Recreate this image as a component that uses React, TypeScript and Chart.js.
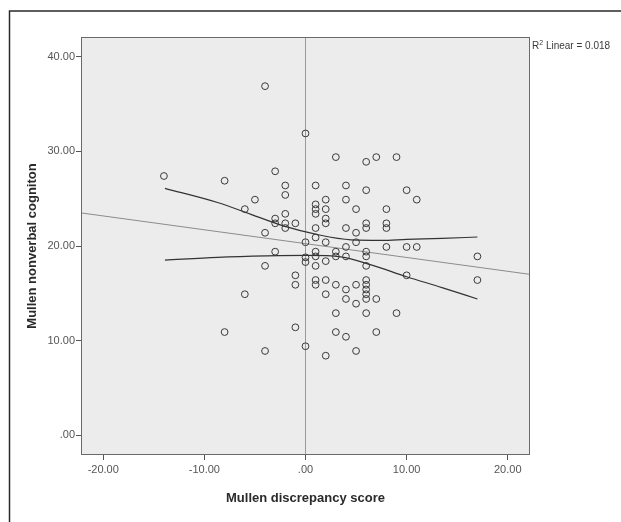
import React, { useEffect, useRef } from 'react';
import { Chart, registerables } from 'chart.js';

Chart.register(...registerables);

// Scatter data: Mullen discrepancy score (x) vs Mullen nonverbal cognition (y)
const discrepancyScores = [
  -4, 0, 3, 6, 7, 9, -14, -8, -3, -2, -2, 1, 4, 6, 10, 4, 11, -5, 2, -6,
  1, 1, 1, 2, 5, 8, -3, -3, -2, -2, -2, -1, -4, 2, 2, 1, 4, 5, 6, 6,
  8, 8, 1, 2, 0, 5, 4, 8, 10, 11, -3, 0, 0, 1, 1, 1, 2, 3, 3, 4,
  6, 6, 6, 17, 17, 10, -4, -1, -1, 1, 1, 2, 3, 4, 5, 6, 6, 6, 6, 6,
  7, 2, 4, 5, -6, 3, 6, 9, -1, -8, 3, 4, 7, -4, 0, 2, 5,
];
const nonverbalScores = [
  36.9, 31.9, 29.4, 28.9, 29.4, 29.4, 27.4, 26.9, 27.9, 26.4, 25.4, 26.4, 26.4, 25.9, 25.9, 24.9, 24.9, 24.9, 24.9, 23.9,
  24.4, 23.9, 23.4, 23.9, 23.9, 23.9, 22.9, 22.4, 23.4, 22.4, 21.9, 22.4, 21.4, 22.9, 22.4, 21.9, 21.9, 21.4, 22.4, 21.9,
  22.4, 21.9, 20.9, 20.4, 20.4, 20.4, 19.9, 19.9, 19.9, 19.9, 19.4, 18.8, 18.3, 19.4, 18.9, 17.9, 18.4, 19.4, 18.9, 18.9,
  19.4, 18.9, 17.9, 18.9, 16.4, 16.9, 17.9, 16.9, 15.9, 16.4, 15.9, 16.4, 15.9, 15.4, 15.9, 16.4, 15.9, 15.4, 14.9, 14.4,
  14.4, 14.9, 14.4, 13.9, 14.9, 12.9, 12.9, 12.9, 11.4, 10.9, 10.9, 10.4, 10.9, 8.9, 9.4, 8.4, 8.9,
];

// Linear fit line (edge to edge)
const fitX = [-22.2, 22.2];
const fitY = [23.5, 17.0];

// 95% mean confidence band curves
const upperBandX = [-13.9, -8.7, -5.4, -2.1, 1.2, 4.5, 7.5, 10, 13.5, 17];
const upperBandY = [26.1, 24.6, 23.35, 22.1, 21.2, 20.65, 20.6, 20.7, 20.8, 20.95];
const lowerBandX = [-13.9, -8.7, -3.8, 0.2, 3.5, 6.5, 10, 13.5, 17];
const lowerBandY = [18.5, 18.8, 18.95, 19.0, 18.85, 18.0, 16.75, 15.6, 14.4];

// Reference line at x = 0
const zeroLineX = [0, 0];
const zeroLineY = [-2.1, 42.1];

const xTicks = [-20, -10, 0, 10, 20];
const yTicks = [0, 10, 20, 30, 40];

const xTitle = 'Mullen discrepancy score';
const yTitle = 'Mullen nonverbal cogniton';
const r2Text = ' Linear = 0.018';

const zip = (xs: number[], ys: number[]) => xs.map((x, i) => ({ x, y: ys[i] }));
const fmt = (v: number) => (v === 0 ? '.00' : v.toFixed(2));
const FONT = "'Liberation Sans', Arial, sans-serif";

export default function App() {
  const ref = useRef<HTMLCanvasElement | null>(null);

  useEffect(() => {
    if (!ref.current) return;

    const bgPlugin = {
      id: 'bg',
      beforeDraw(chart: any) {
        const { ctx, chartArea: a } = chart;
        ctx.save();
        ctx.fillStyle = '#ffffff';
        ctx.fillRect(0, 0, chart.width, chart.height);
        ctx.fillStyle = '#ececec';
        ctx.fillRect(a.left, a.top, a.right - a.left, a.bottom - a.top);
        ctx.restore();
      },
      afterDraw(chart: any) {
        const { ctx, chartArea: a } = chart;
        ctx.save();
        // plot frame
        ctx.strokeStyle = '#6a6a6a';
        ctx.lineWidth = 1;
        ctx.strokeRect(a.left + 0.5, a.top + 0.5, a.right - a.left - 1, a.bottom - a.top - 1);
        // outer chart frame
        ctx.strokeStyle = '#2a2a2a';
        ctx.lineWidth = 1.5;
        ctx.beginPath();
        ctx.moveTo(9.5, 522);
        ctx.lineTo(9.5, 11);
        ctx.lineTo(621, 11);
        ctx.stroke();
        // R² label
        ctx.fillStyle = '#3a3a3a';
        ctx.textBaseline = 'middle';
        ctx.textAlign = 'left';
        const x0 = a.right + 2;
        const y0 = a.top + 9;
        ctx.font = `10px ${FONT}`;
        ctx.fillText('R', x0, y0);
        const rw = ctx.measureText('R').width;
        ctx.font = `7px ${FONT}`;
        ctx.fillText('2', x0 + rw, y0 - 3);
        const sw = ctx.measureText('2').width;
        ctx.font = `10px ${FONT}`;
        ctx.fillText(r2Text, x0 + rw + sw, y0);
        ctx.restore();
      },
    };

    const chart = new Chart(ref.current, {
      type: 'scatter',
      data: {
        datasets: [
          {
            data: zip(discrepancyScores, nonverbalScores),
            borderColor: '#3a3a3a',
            backgroundColor: 'rgba(0,0,0,0)',
            borderWidth: 1,
            pointRadius: 3.4,
            showLine: false,
            order: 0,
          },
          {
            data: zip(fitX, fitY),
            showLine: true,
            borderColor: '#8c8c8c',
            borderWidth: 1,
            pointRadius: 0,
            order: 2,
          },
          {
            data: zip(upperBandX, upperBandY),
            showLine: true,
            borderColor: '#333333',
            borderWidth: 1.2,
            pointRadius: 0,
            cubicInterpolationMode: 'monotone',
            order: 1,
          },
          {
            data: zip(lowerBandX, lowerBandY),
            showLine: true,
            borderColor: '#333333',
            borderWidth: 1.2,
            pointRadius: 0,
            cubicInterpolationMode: 'monotone',
            order: 1,
          },
          {
            data: zip(zeroLineX, zeroLineY),
            showLine: true,
            borderColor: '#9a9a9a',
            borderWidth: 1,
            pointRadius: 0,
            order: 3,
          },
        ] as any,
      },
      plugins: [bgPlugin],
      options: {
        animation: false,
        responsive: false,
        devicePixelRatio: 1,
        layout: { padding: { left: 0, top: 37, right: 91, bottom: 0 } },
        plugins: { legend: { display: false }, tooltip: { enabled: false } },
        scales: {
          x: {
            type: 'linear',
            min: -22.2,
            max: 22.2,
            afterFit: (s: any) => { s.height = 67; },
            afterBuildTicks: (s: any) => { s.ticks = xTicks.map((v) => ({ value: v })); },
            border: { display: false },
            grid: { display: true, drawOnChartArea: false, drawTicks: true, tickLength: 5, color: '#555' },
            ticks: {
              color: '#555',
              font: { family: FONT, size: 11 },
              padding: 3,
              maxRotation: 0,
              callback: (v: any) => fmt(Number(v)),
            },
            title: {
              display: true,
              text: xTitle,
              color: '#2a2a2a',
              font: { family: FONT, size: 13, weight: 'bold' },
              padding: { top: 0, bottom: 16 },
            },
          },
          y: {
            type: 'linear',
            min: -2.1,
            max: 42.1,
            afterFit: (s: any) => { s.width = 81; },
            afterBuildTicks: (s: any) => { s.ticks = yTicks.map((v) => ({ value: v })); },
            border: { display: false },
            grid: { display: true, drawOnChartArea: false, drawTicks: true, tickLength: 5, color: '#555' },
            ticks: {
              color: '#555',
              font: { family: FONT, size: 11 },
              padding: 1,
              callback: (v: any) => fmt(Number(v)),
            },
            title: {
              display: true,
              text: yTitle,
              color: '#2a2a2a',
              font: { family: FONT, size: 13, weight: 'bold' },
              padding: { top: 25, bottom: 0 },
            },
          },
        },
      } as any,
    });

    return () => chart.destroy();
  }, []);

  return (
    <div style={{ position: 'absolute', left: 0, top: 0, width: 621, height: 522, background: '#fff' }}>
      <canvas ref={ref} width={621} height={522} style={{ display: 'block' }} />
    </div>
  );
}
